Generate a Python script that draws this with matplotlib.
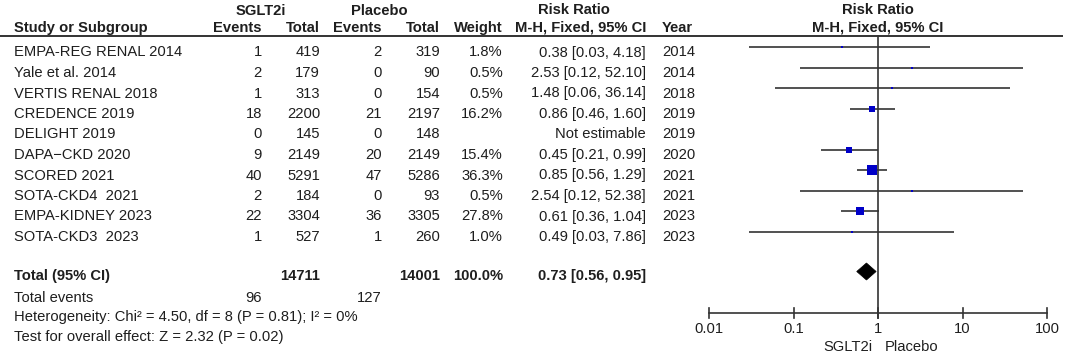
import matplotlib
matplotlib.use("Agg")
import matplotlib.pyplot as plt
from matplotlib.patches import Polygon
import numpy as np

plt.rcParams['font.family'] = ['Liberation Sans', 'DejaVu Sans']

# ---------------- data ----------------
studies = ["EMPA-REG RENAL 2014", "Yale et al. 2014", "VERTIS RENAL 2018", "CREDENCE 2019",
           "DELIGHT 2019", "DAPA\u2212CKD 2020", "SCORED 2021", "SOTA-CKD4  2021",
           "EMPA-KIDNEY 2023", "SOTA-CKD3  2023"]
events_sglt2 = [1, 2, 1, 18, 0, 9, 40, 2, 22, 1]
total_sglt2 = [419, 179, 313, 2200, 145, 2149, 5291, 184, 3304, 527]
events_plac = [2, 0, 0, 21, 0, 20, 47, 0, 36, 1]
total_plac = [319, 90, 154, 2197, 148, 2149, 5286, 93, 3305, 260]
weights = [1.8, 0.5, 0.5, 16.2, None, 15.4, 36.3, 0.5, 27.8, 1.0]
rr = [0.38, 2.53, 1.48, 0.86, None, 0.45, 0.85, 2.54, 0.61, 0.49]
ci_low = [0.03, 0.12, 0.06, 0.46, None, 0.21, 0.56, 0.12, 0.36, 0.03]
ci_high = [4.18, 52.10, 36.14, 1.60, None, 0.99, 1.29, 52.38, 1.04, 7.86]
years = ["2014", "2014", "2018", "2019", "2019", "2020", "2021", "2021", "2023", "2023"]

total_n_sglt2 = 14711
total_n_plac = 14001
total_events_sglt2 = 96
total_events_plac = 127
pooled_rr, pooled_lo, pooled_hi = 0.73, 0.56, 0.95
axis_ticks = [0.01, 0.1, 1, 10, 100]
axis_labels = ["0.01", "0.1", "1", "10", "100"]

# ---------------- figure ----------------
W, H = 1065, 355
fig = plt.figure(figsize=(W / 100, H / 100), dpi=100)
fig.patch.set_facecolor("white")
ax = fig.add_axes([0, 0, 1, 1])
ax.set_xlim(0, W)
ax.set_ylim(H, 0)
ax.axis("off")

X0, X1 = 709, 1047
axf = fig.add_axes([X0 / W, 0, (X1 - X0) / W, 1])
axf.set_xscale("log")
axf.set_xlim(0.01, 100)
axf.set_ylim(H, 0)
axf.axis("off")

TC = "#1e1e1e"
LC = "#333333"
FS = 10.6

row_y = [47 + 20.5 * i for i in range(len(studies))]
BL = 9.5  # baseline offset from row centre

def t(x, y, s, ha="left", bold=False, a=ax):
    a.text(x, y, s, ha=ha, va="baseline", fontsize=FS, color=TC,
           fontweight="bold" if bold else "normal", clip_on=False)

# header
t(260.5, 15, "SGLT2i", ha="center", bold=True)
t(379, 15, "Placebo", ha="center", bold=True)
t(574, 13.5, "Risk Ratio", ha="center", bold=True)
t(14, 32, "Study or Subgroup", bold=True)
t(262, 32, "Events", ha="right", bold=True)
t(320, 32, "Total", ha="right", bold=True)
t(382, 32, "Events", ha="right", bold=True)
t(440, 32, "Total", ha="right", bold=True)
t(503, 32, "Weight", ha="right", bold=True)
t(646, 32, "M-H, Fixed, 95% CI", ha="right", bold=True)
t(662, 32, "Year", bold=True)
t(1, 13.5, "Risk Ratio", ha="center", bold=True, a=axf)
t(1, 32, "M-H, Fixed, 95% CI", ha="center", bold=True, a=axf)

ax.plot([0, 1063], [35.5, 35.5], color=LC, lw=1.4, solid_capstyle="butt")

# rows
for i, y in enumerate(row_y):
    yb = y + BL
    t(14, yb, studies[i])
    t(262, yb, str(events_sglt2[i]), ha="right")
    t(320, yb, str(total_sglt2[i]), ha="right")
    t(382, yb, str(events_plac[i]), ha="right")
    t(440, yb, str(total_plac[i]), ha="right")
    if weights[i] is not None:
        t(503, yb, f"{weights[i]:.1f}%", ha="right")
        t(646, yb, f"{rr[i]:.2f} [{ci_low[i]:.2f}, {ci_high[i]:.2f}]", ha="right")
        axf.plot([ci_low[i], ci_high[i]], [y, y], color=LC, lw=1.2, solid_capstyle="butt")
        side_px = max(1.66 * np.sqrt(weights[i]), 2.0)
        axf.plot([rr[i]], [y], marker="s", linestyle="none", markersize=side_px * 0.72,
                 markerfacecolor="#0000c8", markeredgewidth=0, zorder=5)
    else:
        t(646, yb, "Not estimable", ha="right")
    t(662, yb, years[i])

# total
ty = 271.5
t(14, ty + 8.5, "Total (95% CI)", bold=True)
t(320, ty + 8.5, str(total_n_sglt2), ha="right", bold=True)
t(440, ty + 8.5, str(total_n_plac), ha="right", bold=True)
t(503, ty + 8.5, "100.0%", ha="right", bold=True)
t(646, ty + 8.5, f"{pooled_rr:.2f} [{pooled_lo:.2f}, {pooled_hi:.2f}]", ha="right", bold=True)
axf.add_patch(Polygon([(pooled_lo, ty), (pooled_rr, ty - 8.5), (pooled_hi, ty),
                       (pooled_rr, ty + 8.5)], closed=True, facecolor="black",
                      edgecolor="black", lw=0.5, zorder=6))

t(14, 301.5, "Total events")
t(262, 301.5, str(total_events_sglt2), ha="right")
t(382, 301.5, str(total_events_plac), ha="right")
t(14, 321.5, "Heterogeneity: Chi\u00b2 = 4.50, df = 8 (P = 0.81); I\u00b2 = 0%")
t(14, 341.5, "Test for overall effect: Z = 2.32 (P = 0.02)")

# forest axis
axf.plot([1, 1], [35.5, 318], color=LC, lw=1.2)
axf.plot([axis_ticks[0], axis_ticks[-1]], [313, 313], color=LC, lw=1.2, clip_on=False)
for tv, tl in zip(axis_ticks, axis_labels):
    axf.plot([tv, tv], [308, 318], color=LC, lw=1.2, clip_on=False)
    t(tv, 333, tl, ha="center", a=axf)
t(0.86, 351, "SGLT2i", ha="right", a=axf)
t(1.19, 351, "Placebo", ha="left", a=axf)

fig.savefig("out.png", dpi=100, facecolor="white")
